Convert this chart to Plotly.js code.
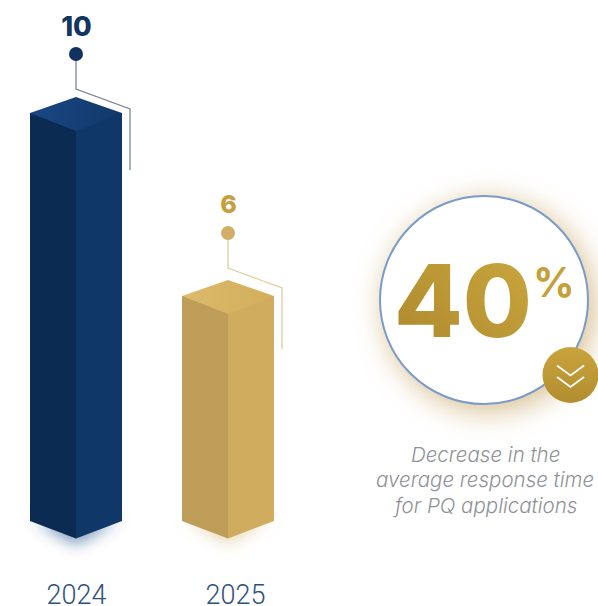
<!DOCTYPE html>
<html>
<head>
<meta charset="utf-8">
<script src="https://cdn.plot.ly/plotly-3.0.1.min.js"></script>
<style>html,body{margin:0;padding:0;background:#fff;overflow:hidden}#c{width:598px;height:606px}</style>
</head>
<body>
<div id="c"></div>
<script>
// ---- data ----
const years = ['2024', '2025'];
const values = [10, 6];
const bigNumber = '40';
const bigUnit = '%';
const captionLines = ['Decrease in the', 'average response time', 'for PQ applications'];

// ---- palette ----
const leftFace = ['#0c2b52', '#bd9d57'];
const rightFace = ['#0f3767', '#cfac5e'];
const topFaceA = ['#1a4785', '#dcbb6c'];
const topFaceB = ['#113868', '#d2ad5c'];
const labelColor = ['#12365f', '#c79f3c'];
const dotColor = ['#12335f', '#d2ae68'];
const leaderColor = ['#7c8795', '#e2cd9c'];

// ---- geometry (page pixels; y axis is calibrated so value -> pixel is linear) ----
const W = 598, H = 606, AXB = 576;
const PX0 = 570.5, PXU = 45.75;
const v = py => (PX0 - py) / PXU;      // page pixel -> axis value
const px = val => PX0 - val * PXU;     // axis value -> page pixel
const centers = [76, 228], tickPos = [76.5, 235.5];
const HALF = 46, DROP = 17.5, baseVal = v(521);

const traces = [];
const poly = (xs, ys, color, grad) => {
  const t = {type: 'scatter', mode: 'lines', x: xs, y: ys, fill: 'toself', line: {width: 0}, hoverinfo: 'skip', showlegend: false, fillcolor: color};
  if (grad) t.fillgradient = {type: 'horizontal', colorscale: [[0, grad[0]], [1, grad[1]]]};
  traces.push(t);
};

// bar bodies: one bar trace per visible face
traces.push({type: 'bar', x: centers.map(c => c - HALF / 2), y: values.map(d => d - baseVal), base: values.map(() => baseVal), width: HALF, marker: {color: leftFace, line: {width: 0}}, showlegend: false, hoverinfo: 'skip'});
traces.push({type: 'bar', x: centers.map(c => c + HALF / 2), y: values.map(d => d - baseVal), base: values.map(() => baseVal), width: HALF, marker: {color: rightFace, line: {width: 0}}, showlegend: false, hoverinfo: 'skip'});

values.forEach((d, i) => {
  const c = centers[i], t = px(d), b = 521;
  // chevron bottoms
  poly([c - HALF, c, c, c - HALF, c - HALF], [b, b + DROP, b - 2, b - 2, b].map(v), leftFace[i]);
  poly([c, c + HALF, c + HALF, c, c], [b + DROP, b, b - 2, b - 2, b + DROP].map(v), rightFace[i]);
  // top face
  poly([c - HALF, c, c + HALF, c, c - HALF], [t, t - 16, t, t + 18, t].map(v), topFaceA[i], [topFaceA[i], topFaceB[i]]);
  // leader line
  const dy = [54, 233][i], elbow = dy + 35;
  traces.push({type: 'scatter', mode: 'lines', x: [c, c, c + 54, c + 54], y: [dy, elbow, elbow + 20, elbow + 81].map(v), line: {color: leaderColor[i], width: 1.3}, hoverinfo: 'skip', showlegend: false});
  // dot
  traces.push({type: 'scatter', mode: 'markers', x: [c], y: [v(dy)], marker: {size: 14, color: dotColor[i], line: {width: 0}}, hoverinfo: 'skip', showlegend: false});
  // value label
  traces.push({type: 'scatter', mode: 'text', x: [c + 0.5], y: [v([29, 207][i])], text: [String(d)], textposition: 'middle center', textfont: {family: 'Inter, Roboto', size: [27, 25][i], weight: 800, color: labelColor[i]}, hoverinfo: 'skip', showlegend: false});
});

// badge
traces.push({type: 'scatter', mode: 'markers', x: [570.5], y: [v(375)], marker: {size: 56, color: '#c9a43c', gradient: {type: 'vertical', color: '#b28d30'}, line: {width: 0}}, hoverinfo: 'skip', showlegend: false});
[365.5, 377].forEach(yy => {
  traces.push({type: 'scatter', mode: 'lines', x: [557, 570.5, 584], y: [yy, yy + 10, yy].map(v), line: {color: '#ffffff', width: 1.8}, hoverinfo: 'skip', showlegend: false});
});

// blurred shadows and glow, as a single background picture
const shadowSvg = `<svg xmlns="http://www.w3.org/2000/svg" width="${W}" height="${H}" viewBox="0 0 ${W} ${H}">
<defs><filter id="b" filterUnits="userSpaceOnUse" x="0" y="0" width="${W}" height="${H}"><feGaussianBlur stdDeviation="8"/></filter>
<filter id="g" filterUnits="userSpaceOnUse" x="0" y="0" width="${W}" height="${H}"><feGaussianBlur stdDeviation="14"/></filter></defs>
<path d="M34 520 L76 544 L118 520 Z" fill="#12417f" fill-opacity="0.6" filter="url(#b)"/>
<path d="M186 520 L228 544 L270 520 Z" fill="#c9a65a" fill-opacity="0.45" filter="url(#b)"/>
<circle cx="489" cy="306" r="106" fill="#c4a25c" fill-opacity="0.65" filter="url(#g)"/>
</svg>`;

const sideText = (text, x, py, font) => ({xref: 'x', yref: 'y', x, y: v(py), text, showarrow: false, align: 'center', xanchor: 'center', yanchor: 'middle', font});
const captionFont = {family: 'Inter, Roboto', size: 20.5, style: 'italic', weight: 300, color: '#8f9296'};

const layout = {
  width: W, height: H,
  margin: {l: 0, r: 0, t: 0, b: H - AXB, pad: 0},
  paper_bgcolor: '#ffffff', plot_bgcolor: 'rgba(0,0,0,0)',
  showlegend: false, barmode: 'overlay', bargap: 0,
  xaxis: {range: [0, W], tickmode: 'array', tickvals: tickPos, ticktext: years, ticks: '', ticklen: 0, showgrid: false, zeroline: false, showline: false, automargin: false,
    tickfont: {family: 'Roboto', size: 27, weight: 300, color: '#2f5279'}},
  yaxis: {range: [v(AXB), v(0)], visible: false, showgrid: false, zeroline: false, automargin: false},
  images: [{source: 'data:image/svg+xml;charset=utf-8,' + encodeURIComponent(shadowSvg), xref: 'x', yref: 'y', x: 0, y: v(0), sizex: W, sizey: H / PXU, sizing: 'stretch', xanchor: 'left', yanchor: 'top', layer: 'below'}],
  shapes: [{type: 'circle', xref: 'x', yref: 'y', x0: 380, x1: 588, y0: v(404), y1: v(196), fillcolor: '#ffffff', line: {color: '#7a9bc6', width: 2}, layer: 'between'}],
  annotations: [
    sideText(bigNumber, 463, 300, {family: 'Inter', size: 100, weight: 800, color: '#bb9533'}),
    sideText(bigUnit, 554, 282, {family: 'Inter', size: 41, weight: 700, color: '#c4a03a'}),
    sideText(captionLines[0], 485, 454, captionFont),
    sideText(captionLines[1], 485, 479.5, captionFont),
    sideText(captionLines[2], 485, 505, captionFont)
  ]
};

Plotly.newPlot('c', traces, layout, {displayModeBar: false, staticPlot: true}).then(gd => {
  // gold gradient on the headline number
  const svg = gd.querySelector('svg.main-svg');
  const ns = 'http://www.w3.org/2000/svg';
  const defs = svg.querySelector('defs') || svg.insertBefore(document.createElementNS(ns, 'defs'), svg.firstChild);
  const g = document.createElementNS(ns, 'linearGradient');
  g.setAttribute('id', 'goldText');
  g.setAttribute('x1', '0'); g.setAttribute('y1', '1'); g.setAttribute('x2', '1'); g.setAttribute('y2', '0');
  [['0', '#ad872c'], ['1', '#cba83f']].forEach(([o, c]) => {
    const s = document.createElementNS(ns, 'stop');
    s.setAttribute('offset', o); s.setAttribute('stop-color', c); g.appendChild(s);
  });
  defs.appendChild(g);
  const a = gd.querySelectorAll('.annotation-text');
  if (a[0]) a[0].style.fill = 'url(#goldText)';
});
</script>
</body>
</html>
